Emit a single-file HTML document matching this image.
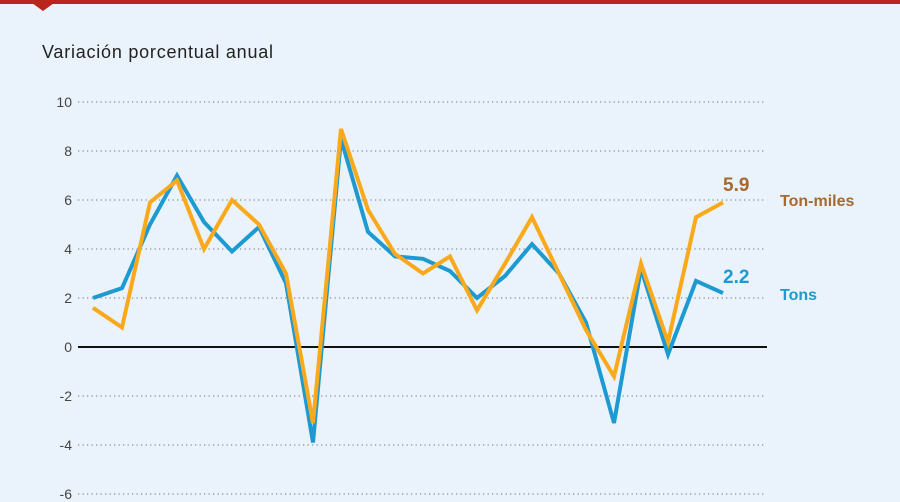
<!DOCTYPE html>
<html><head><meta charset="utf-8"><style>
html,body{margin:0;padding:0;background:#eaf3fb;}
svg{display:block;font-family:"Liberation Sans",sans-serif;}
</style></head><body>
<svg width="900" height="502" viewBox="0 0 900 502">
<rect width="900" height="502" fill="#eaf3fb"/>
<rect x="0" y="0" width="900" height="4" fill="#b8251c"/>
<polygon points="32,3 54,3 43,11" fill="#b8251c"/>
<text x="42" y="58" font-size="18" fill="#222" textLength="231" lengthAdjust="spacing">Variación porcentual anual</text>
<g stroke="#8a8f96" stroke-width="1.3" stroke-dasharray="1.3,3.2">
<line x1="78" x2="766" y1="102" y2="102"/>
<line x1="78" x2="766" y1="151" y2="151"/>
<line x1="78" x2="766" y1="200" y2="200"/>
<line x1="78" x2="766" y1="249" y2="249"/>
<line x1="78" x2="766" y1="298" y2="298"/>
<line x1="78" x2="766" y1="396" y2="396"/>
<line x1="78" x2="766" y1="445" y2="445"/>
<line x1="78" x2="766" y1="494" y2="494"/>
</g>
<line x1="78" x2="767" y1="347" y2="347" stroke="#111" stroke-width="2"/>
<g font-size="14" fill="#444" text-anchor="end">
<text x="72" y="107">10</text><text x="72" y="156">8</text><text x="72" y="205">6</text>
<text x="72" y="254">4</text><text x="72" y="303">2</text><text x="72" y="352">0</text>
<text x="72" y="401">-2</text><text x="72" y="450">-4</text><text x="72" y="499">-6</text>
</g>
<polyline fill="none" stroke="#1d9ad1" stroke-width="4" stroke-linejoin="miter" points="93,298 122,288.2 150,224.5 177,175.5 204,222 232,251.5 259,227 286,283.3 313,442.5 341,138.8 368,231.9 395,256.4 423,258.8 450,271 477,298 505,276 532,244.1 559,273.5 586,322.5 614,423 641,268.6 668,354.4 696,280.9 723,293.1"/>
<polyline fill="none" stroke="#f9a91b" stroke-width="4" stroke-linejoin="miter" points="93,307.8 122,327.4 150,202.5 177,180.4 204,249 232,200 259,224.5 286,273.5 313,423 341,129 368,209.8 395,253.9 423,273.5 450,256.4 477,310.3 505,263.7 532,217.2 559,273.5 586,329.9 614,376.4 641,263.7 668,342.1 696,217.2 723,202.5"/>
<g font-weight="bold">
<text x="723" y="191" font-size="19" fill="#a8692e">5.9</text>
<text x="780" y="206" font-size="16" fill="#a8692e">Ton-miles</text>
<text x="723" y="283" font-size="19" fill="#1d9ad1">2.2</text>
<text x="780" y="300" font-size="16" fill="#1d9ad1">Tons</text>
</g>
</svg>
</body></html>
